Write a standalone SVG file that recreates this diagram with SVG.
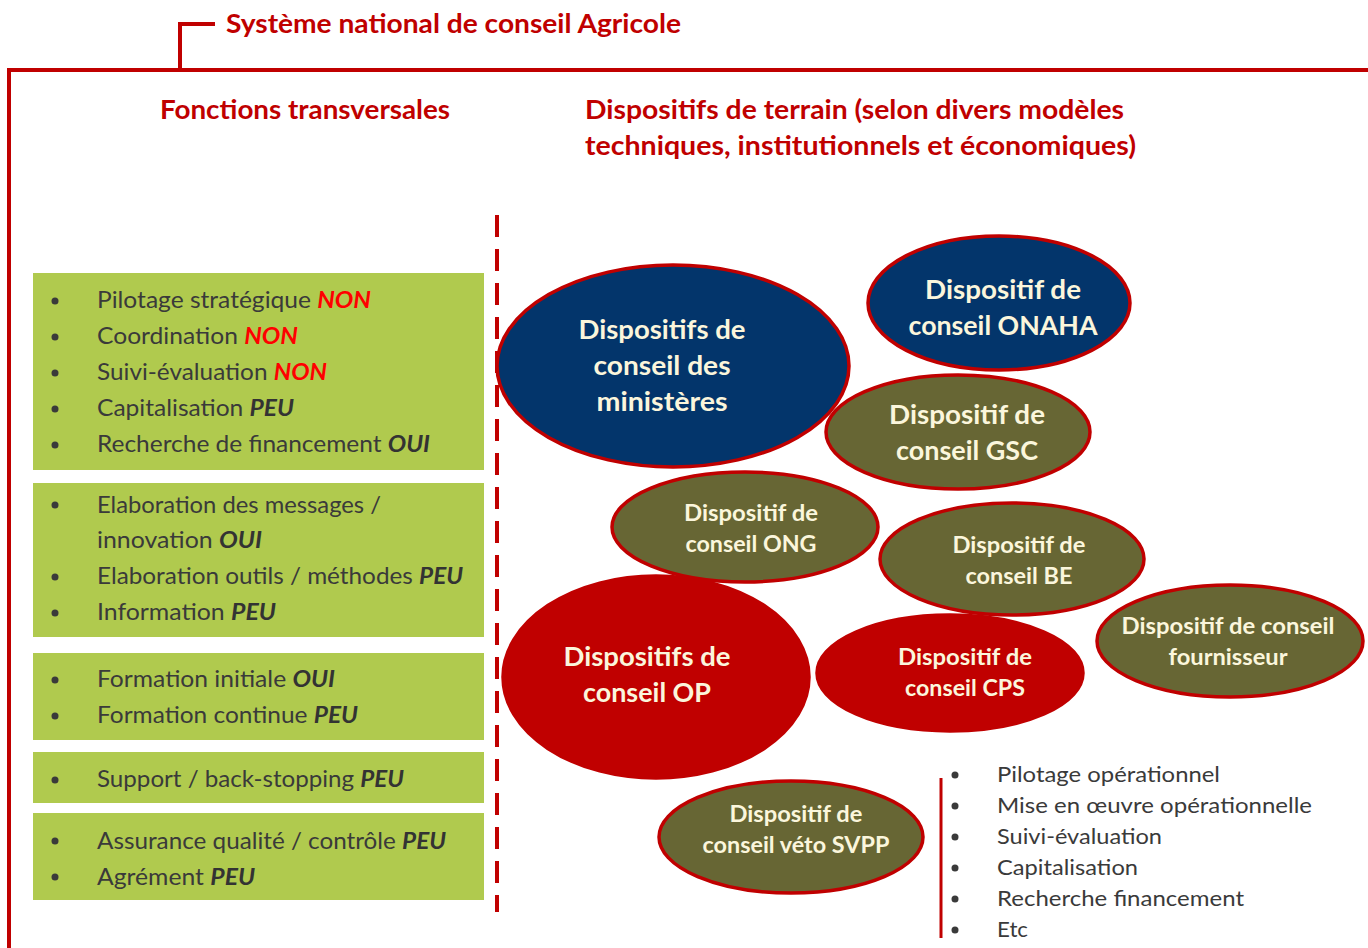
<svg xmlns="http://www.w3.org/2000/svg" width="1368" height="948" viewBox="0 0 1368 948">
  <style>
    .hdr { font-family: Lato, "Open Sans", sans-serif; font-weight: bold; font-size: 26px; fill: #C00000; }
    .frame { fill: none; stroke: #C00000; stroke-width: 4; }
    .box { fill: #B0CA4E; }
    .li { font-family: Lato, "Open Sans", sans-serif; font-size: 23px; fill: #3A3A3A; }
    .li2 { font-family: Lato, "Open Sans", sans-serif; font-size: 22px; fill: #3A3A3A; }
    .kw { font-weight: bold; font-style: italic; fill: #333333; }
    .no { font-weight: bold; font-style: italic; fill: #FF0000; }
    .dot { fill: #3A3A3A; }
    .ell { stroke: #C00000; stroke-width: 3.5; }
    .navy { fill: #03356B; }
    .olive { fill: #676634; }
    .red { fill: #C00000; }
    .lbl { font-family: Lato, "Open Sans", sans-serif; font-weight: bold; fill: #FBF6DC; text-anchor: middle; }
    .big { font-size: 26px; }
    .small { font-size: 22px; }
  </style>

  <rect width="1368" height="948" fill="#FFFFFF"/>

  <!-- outer frame and title bracket -->
  <g id="frame">
    <polyline class="frame" points="9,948 9,70 1368,70"/>
    <polyline class="frame" points="180,70 180,24 215,24"/>
    <text class="hdr" x="226" y="33" textLength="455" lengthAdjust="spacingAndGlyphs">Système national de conseil Agricole</text>
    <text class="hdr" x="160" y="119" textLength="290" lengthAdjust="spacingAndGlyphs">Fonctions transversales</text>
    <text class="hdr" x="585" y="119" textLength="539" lengthAdjust="spacingAndGlyphs">Dispositifs de terrain (selon divers modèles</text>
    <text class="hdr" x="585" y="155" textLength="551" lengthAdjust="spacingAndGlyphs">techniques, institutionnels et économiques)</text>
  </g>

  <!-- transversal functions -->
  <g id="box-pilotage">
    <rect class="box" x="33" y="273" width="451" height="197"/>
    <circle class="dot" cx="55" cy="301" r="3.5"/>
    <circle class="dot" cx="55" cy="337" r="3.5"/>
    <circle class="dot" cx="55" cy="373" r="3.5"/>
    <circle class="dot" cx="55" cy="409" r="3.5"/>
    <circle class="dot" cx="55" cy="445" r="3.5"/>
    <text class="li" x="97" y="308" textLength="274" lengthAdjust="spacingAndGlyphs">Pilotage stratégique <tspan class="no">NON</tspan></text>
    <text class="li" x="97" y="344" textLength="201" lengthAdjust="spacingAndGlyphs">Coordination <tspan class="no">NON</tspan></text>
    <text class="li" x="97" y="380" textLength="230" lengthAdjust="spacingAndGlyphs">Suivi-évaluation <tspan class="no">NON</tspan></text>
    <text class="li" x="97" y="416" textLength="197" lengthAdjust="spacingAndGlyphs">Capitalisation <tspan class="kw">PEU</tspan></text>
    <text class="li" x="97" y="452" textLength="333" lengthAdjust="spacingAndGlyphs">Recherche de financement <tspan class="kw">OUI</tspan></text>
  </g>

  <g id="box-elaboration">
    <rect class="box" x="33" y="483" width="451" height="154"/>
    <circle class="dot" cx="55" cy="505" r="3.5"/>
    <circle class="dot" cx="55" cy="577" r="3.5"/>
    <circle class="dot" cx="55" cy="613" r="3.5"/>
    <text class="li" x="97" y="513" textLength="284" lengthAdjust="spacingAndGlyphs">Elaboration des messages /</text>
    <text class="li" x="97" y="548" textLength="165" lengthAdjust="spacingAndGlyphs">innovation <tspan class="kw">OUI</tspan></text>
    <text class="li" x="97" y="584" textLength="366" lengthAdjust="spacingAndGlyphs">Elaboration outils / méthodes <tspan class="kw">PEU</tspan></text>
    <text class="li" x="97" y="620" textLength="179" lengthAdjust="spacingAndGlyphs">Information <tspan class="kw">PEU</tspan></text>
  </g>

  <g id="box-formation">
    <rect class="box" x="33" y="653" width="451" height="87"/>
    <circle class="dot" cx="55" cy="680" r="3.5"/>
    <circle class="dot" cx="55" cy="716" r="3.5"/>
    <text class="li" x="97" y="687" textLength="238" lengthAdjust="spacingAndGlyphs">Formation initiale <tspan class="kw">OUI</tspan></text>
    <text class="li" x="97" y="723" textLength="261" lengthAdjust="spacingAndGlyphs">Formation continue <tspan class="kw">PEU</tspan></text>
  </g>

  <g id="box-support">
    <rect class="box" x="33" y="752" width="451" height="51"/>
    <circle class="dot" cx="55" cy="780" r="3.5"/>
    <text class="li" x="97" y="787" textLength="307" lengthAdjust="spacingAndGlyphs">Support / back-stopping <tspan class="kw">PEU</tspan></text>
  </g>

  <g id="box-qualite">
    <rect class="box" x="33" y="813" width="451" height="87"/>
    <circle class="dot" cx="55" cy="841" r="3.5"/>
    <circle class="dot" cx="55" cy="877" r="3.5"/>
    <text class="li" x="97" y="849" textLength="349" lengthAdjust="spacingAndGlyphs">Assurance qualité / contrôle <tspan class="kw">PEU</tspan></text>
    <text class="li" x="97" y="885" textLength="158" lengthAdjust="spacingAndGlyphs">Agrément <tspan class="kw">PEU</tspan></text>
  </g>

  <!-- separators -->
  <g id="connectors">
    <line x1="497" y1="215" x2="497" y2="912" stroke="#C00000" stroke-width="4" stroke-dasharray="22,12"/>
    <line x1="941" y1="778" x2="941" y2="938" stroke="#C00000" stroke-width="3"/>
  </g>

  <!-- field devices -->
  <g id="ministeres">
    <ellipse class="ell navy" cx="673" cy="366" rx="176" ry="101"/>
    <text class="lbl big" x="662" y="339" textLength="167" lengthAdjust="spacingAndGlyphs">Dispositifs de</text>
    <text class="lbl big" x="662" y="375" textLength="137" lengthAdjust="spacingAndGlyphs">conseil des</text>
    <text class="lbl big" x="662" y="411" textLength="131" lengthAdjust="spacingAndGlyphs">ministères</text>
  </g>

  <g id="onaha">
    <ellipse class="ell navy" cx="999" cy="303" rx="131" ry="67"/>
    <text class="lbl big" x="1003" y="299" textLength="156" lengthAdjust="spacingAndGlyphs">Dispositif de</text>
    <text class="lbl big" x="1003" y="335" textLength="189" lengthAdjust="spacingAndGlyphs">conseil ONAHA</text>
  </g>

  <g id="gsc">
    <ellipse class="ell olive" cx="958" cy="432" rx="132" ry="57"/>
    <text class="lbl big" x="967" y="424" textLength="156" lengthAdjust="spacingAndGlyphs">Dispositif de</text>
    <text class="lbl big" x="967" y="460" textLength="142" lengthAdjust="spacingAndGlyphs">conseil GSC</text>
  </g>

  <g id="ong">
    <ellipse class="ell olive" cx="745" cy="527" rx="133" ry="55"/>
    <text class="lbl small" x="751" y="521" textLength="134" lengthAdjust="spacingAndGlyphs">Dispositif de</text>
    <text class="lbl small" x="751" y="552" textLength="131" lengthAdjust="spacingAndGlyphs">conseil ONG</text>
  </g>

  <g id="be">
    <ellipse class="ell olive" cx="1012" cy="559" rx="132" ry="56"/>
    <text class="lbl small" x="1019" y="553" textLength="133" lengthAdjust="spacingAndGlyphs">Dispositif de</text>
    <text class="lbl small" x="1019" y="584" textLength="107" lengthAdjust="spacingAndGlyphs">conseil BE</text>
  </g>

  <g id="fournisseur">
    <ellipse class="ell olive" cx="1230" cy="641" rx="133" ry="56"/>
    <text class="lbl small" x="1228" y="634" textLength="213" lengthAdjust="spacingAndGlyphs">Dispositif de conseil</text>
    <text class="lbl small" x="1228" y="665" textLength="119" lengthAdjust="spacingAndGlyphs">fournisseur</text>
  </g>

  <g id="op">
    <ellipse class="ell red" cx="656" cy="677" rx="153" ry="101"/>
    <text class="lbl big" x="647" y="666" textLength="167" lengthAdjust="spacingAndGlyphs">Dispositifs de</text>
    <text class="lbl big" x="647" y="702" textLength="128" lengthAdjust="spacingAndGlyphs">conseil OP</text>
  </g>

  <g id="cps">
    <ellipse class="ell red" cx="950" cy="673" rx="133" ry="58"/>
    <text class="lbl small" x="965" y="665" textLength="134" lengthAdjust="spacingAndGlyphs">Dispositif de</text>
    <text class="lbl small" x="965" y="696" textLength="120" lengthAdjust="spacingAndGlyphs">conseil CPS</text>
  </g>

  <g id="veto">
    <ellipse class="ell olive" cx="791" cy="837" rx="132" ry="56"/>
    <text class="lbl small" x="796" y="822" textLength="133" lengthAdjust="spacingAndGlyphs">Dispositif de</text>
    <text class="lbl small" x="796" y="853" textLength="187" lengthAdjust="spacingAndGlyphs">conseil véto SVPP</text>
  </g>

  <!-- field-level functions -->
  <g id="fonctions-terrain">
    <circle class="dot" cx="955" cy="775" r="3.5"/>
    <circle class="dot" cx="955" cy="806" r="3.5"/>
    <circle class="dot" cx="955" cy="837" r="3.5"/>
    <circle class="dot" cx="955" cy="868" r="3.5"/>
    <circle class="dot" cx="955" cy="899" r="3.5"/>
    <circle class="dot" cx="955" cy="930" r="3.5"/>
    <text class="li2" x="997" y="782" textLength="223" lengthAdjust="spacingAndGlyphs">Pilotage opérationnel</text>
    <text class="li2" x="997" y="813" textLength="315" lengthAdjust="spacingAndGlyphs">Mise en œuvre opérationnelle</text>
    <text class="li2" x="997" y="844" textLength="165" lengthAdjust="spacingAndGlyphs">Suivi-évaluation</text>
    <text class="li2" x="997" y="875" textLength="141" lengthAdjust="spacingAndGlyphs">Capitalisation</text>
    <text class="li2" x="997" y="906" textLength="247" lengthAdjust="spacingAndGlyphs">Recherche financement</text>
    <text class="li2" x="997" y="937" textLength="31" lengthAdjust="spacingAndGlyphs">Etc</text>
  </g>
</svg>
